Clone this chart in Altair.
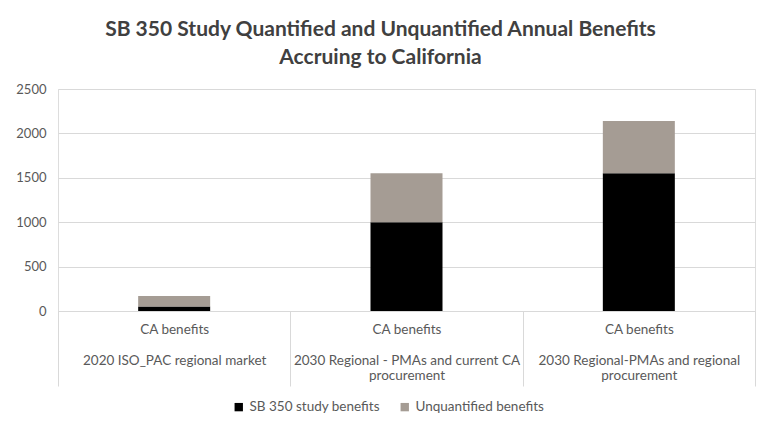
import altair as alt
import pandas as pd

# ---- data ----
category_top = ["CA benefits", "CA benefits", "CA benefits"]
category_bottom = [
    ["2020 ISO_PAC regional market"],
    ["2030 Regional - PMAs and current CA", "procurement"],
    ["2030 Regional-PMAs and regional", "procurement"],
]
series_names = ["SB 350 study benefits", "Unquantified benefits"]
sb350_benefits = [50, 1000, 1550]
unquantified_benefits = [120, 550, 590]
y_ticks = [0, 500, 1000, 1500, 2000, 2500]

cat_keys = ["|".join([t, "\u2800"] + b) for t, b in zip(category_top, category_bottom)]

rows = []
for i, k in enumerate(cat_keys):
    rows.append({"cat": k, "series": series_names[0], "value": sb350_benefits[i], "ord": 0})
    rows.append({"cat": k, "series": series_names[1], "value": unquantified_benefits[i], "ord": 1})
df = pd.DataFrame(rows)

FONT = "Lato"
GREY = "#595959"
GRID = "#d9d9d9"

chart = (
    alt.Chart(df)
    .mark_bar(width=72)
    .encode(
        x=alt.X(
            "cat:N",
            sort=cat_keys,
            scale=alt.Scale(paddingInner=0, paddingOuter=0),
            axis=alt.Axis(
                title=None,
                labelAngle=0,
                labelExpr="isValid(datum.value) ? split(datum.value, '|') : ''",
                labelFont=FONT,
                labelFontSize=13.5,
                labelColor=GREY,
                labelLineHeight=15.5,
                labelPadding=-64,
                labelLimit=300,
                tickBand="extent",
                tickSize=75,
                tickColor=GRID,
                tickWidth=1,
                domainColor=GRID,
                domainWidth=1,
                grid=False,
            ),
        ),
        y=alt.Y(
            "value:Q",
            stack="zero",
            scale=alt.Scale(domain=[0, 2500], nice=False),
            axis=alt.Axis(
                title=None,
                values=y_ticks,
                format="d",
                labelFont=FONT,
                labelFontSize=13,
                labelColor=GREY,
                labelPadding=12,
                ticks=False,
                domain=False,
                gridColor=GRID,
                gridWidth=1,
            ),
        ),
        color=alt.Color(
            "series:N",
            sort=series_names,
            scale=alt.Scale(domain=series_names, range=["#000000", "#a59c94"]),
            legend=alt.Legend(
                title=None,
                orient="none",
                direction="horizontal",
                legendX=174,
                legendY=311,
                symbolType="square",
                symbolSize=70,
                symbolStrokeWidth=0,
                labelFont=FONT,
                labelFontSize=13.5,
                labelColor=GREY,
                columnPadding=18,
                labelOffset=4,
            ),
        ),
        order=alt.Order("ord:Q"),
    )
    .properties(
        width=697,
        height=222,
        autosize=alt.AutoSizeParams(type="none"),
        padding={"left": 50, "top": 81, "right": 5, "bottom": 113},
        title=alt.TitleParams(
            text=[
                "SB 350 Study Quantified and Unquantified Annual Benefits",
                "Accruing to California",
            ],
            font=FONT,
            fontSize=21,
            fontWeight="bold",
            color="#404040",
            lineHeight=28,
            offset=15,
            anchor="middle",
            dx=-26,
        ),
    )
    .configure_view(stroke=None)
    .configure(background="white")
)

chart.save("out.html", embed_options={"renderer": "svg", "actions": False})
